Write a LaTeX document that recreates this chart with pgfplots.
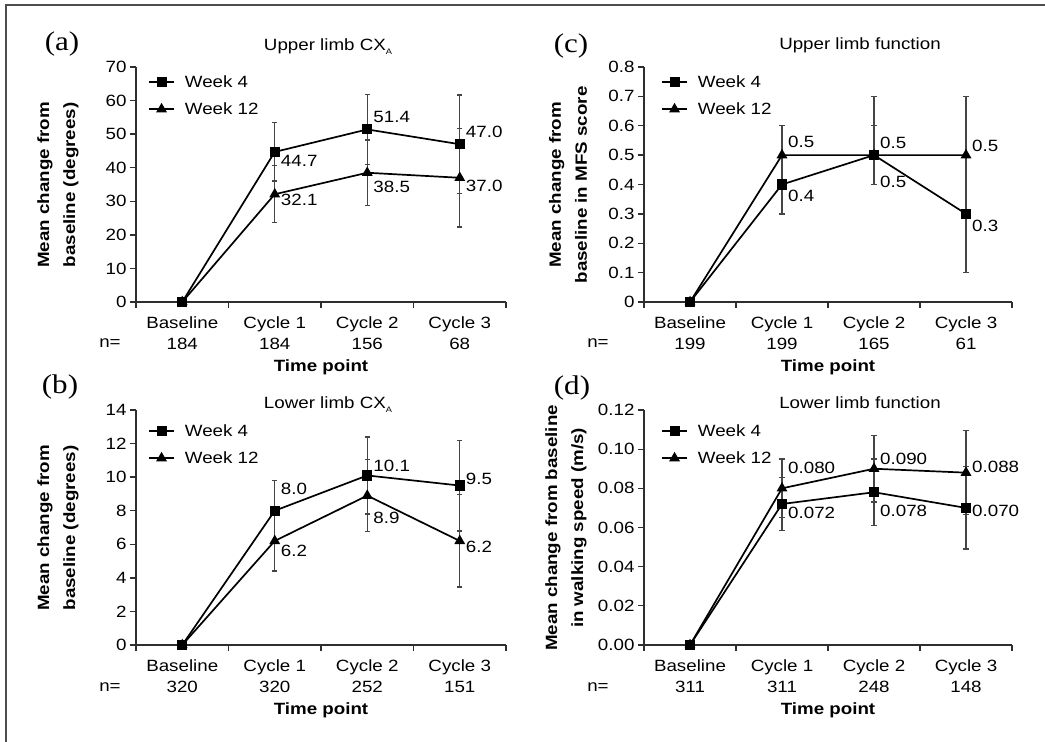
\documentclass[border=0pt]{standalone}
\usepackage{fontspec}
\setmainfont{Liberation Sans}[FakeStretch=1.15]
\newfontfamily\panelfont{Liberation Serif}[FakeStretch=1.15]
\usepackage{pgfplots}
\pgfplotsset{compat=1.18}
\definecolor{axisgray}{HTML}{2E2E2E}
\definecolor{errgray}{HTML}{454545}
\definecolor{framegray}{HTML}{4D4D4D}
\newcommand{\txt}{\fontsize{16.3}{21}\selectfont}
\newcommand{\lbl}{\fontsize{16.3}{26}\selectfont\bfseries}
\newcommand{\ttl}{\fontsize{16.3}{20}\selectfont}
\newcommand{\sub}[1]{\raisebox{-4pt}{\fontsize{8}{8}\selectfont #1}}

\pgfplotsset{
  panel/.style={
    scale only axis, width=370pt, height=235pt,
    clip=false,
    axis x line*=bottom, axis y line*=left,
    every outer x axis line/.append style={-},
    every outer y axis line/.append style={-},
    axis line style={-, draw=axisgray, line width=1.6pt},
    xmin=-0.5, xmax=3.5, ymin=0,
    xtick={0,1,2,3},
    minor xtick={-0.5,0.5,1.5,2.5,3.5},
    major x tick style={draw=none},
    tick align=outside, tick pos=left,
    major tick length=6pt, minor tick length=6pt,
    tick style={axisgray, line width=1.3pt},
    xticklabel style={align=center, font=\txt, yshift=-5pt},
    yticklabel style={font=\txt},
    /pgf/number format/assume math mode=true,
    scaled y ticks=false,
    legend cell align=left,
    legend image code/.code={\draw[mark repeat=2, mark phase=2, #1] plot coordinates {(0pt,0pt) (12.5pt,0pt) (25pt,0pt)};},
    legend style={draw=none, fill=none, font=\txt, inner sep=0pt,
      anchor=north west, at={(rel axis cs:0,1)},
      nodes={inner sep=0pt}, row sep=14pt,
      /tikz/every odd column/.append style={column sep=10pt}},
  },
  wk4/.style={black, line width=1.7pt, mark=square*, mark size=4.2pt,
    mark options={solid},
    error bars/.cd, y dir=both, y explicit,
    error bar style={errgray, line width=1.4pt},
    error mark options={rotate=90, mark size=2.6pt, errgray, line width=1.4pt}},
  wk12/.style={black, line width=1.7pt, mark=triangle*, mark size=4.6pt,
    mark options={solid},
    error bars/.cd, y dir=both, y explicit,
    error bar style={errgray, line width=1.4pt},
    error mark options={rotate=90, mark size=2.6pt, errgray, line width=1.4pt}},
  vals/.style={draw=none, mark=none, forget plot,
    nodes near coords={\pgfplotspointmeta},
    point meta=explicit symbolic,
    visualization depends on={\thisrow{dy}\as\dy},
    every node near coord/.style={anchor=west, inner sep=0pt, xshift=6pt,
      yshift=\dy pt, text=black, font=\txt}},
}

\begin{document}
\begin{tikzpicture}
\useasboundingbox (0pt,0pt) rectangle (1045pt,742pt);
\draw[framegray, line width=1.5pt] (6pt,0pt) -- (6pt,737pt) -- (1045pt,737pt);

% (a) upper limb CXA
\begin{axis}[panel, at={(136pt,440pt)}, anchor=south west,
  ymax=70, ytick={0,10,...,70},
  xticklabels={{Baseline\\184},{Cycle 1\\184},{Cycle 2\\156},{Cycle 3\\68}},
  legend style={xshift=12pt, yshift=-8pt}]
\addplot[wk4] coordinates {(0,0) (1,44.7) +- (0,8.7) (2,51.4) +- (0,10.4) (3,47.0) +- (0,14.7)};
\addplot[wk12] coordinates {(0,0) (1,32.1) +- (0,8.5) (2,38.5) +- (0,9.7) (3,37.0) +- (0,14.7)};
\legend{Week 4, Week 12}
\addplot[vals] table[meta=lab] {
x y dy lab
1 44.7 -9 44.7
1 32.1 -6 32.1
2 51.4 12 51.4
2 38.5 -14 38.5
3 47.0 12 47.0
3 37.0 -8 37.0
};
\end{axis}

% (c) upper limb function
\begin{axis}[panel, at={(644pt,440pt)}, anchor=south west, width=368pt,
  ymax=0.8, ytick={0,0.1,0.2,0.3,0.4,0.5,0.6,0.7,0.8},
  yticklabel style={/pgf/number format/.cd, fixed, precision=1},
  xticklabels={{Baseline\\199},{Cycle 1\\199},{Cycle 2\\165},{Cycle 3\\61}},
  legend style={xshift=17pt, yshift=-8pt}]
\addplot[wk4] coordinates {(0,0) (1,0.4) +- (0,0.1) (2,0.5) +- (0,0.1) (3,0.3) +- (0,0.2)};
\addplot[wk12] coordinates {(0,0) (1,0.5) +- (0,0.1) (2,0.5) += (0,0.2) -= (0,0.1) (3,0.5) +- (0,0.2)};
\legend{Week 4, Week 12}
\addplot[vals] table[meta=lab] {
x y dy lab
1 0.5 13 0.5
1 0.4 -11 0.4
2 0.5 12 0.5
2 0.5 -27 0.5
3 0.5 9 0.5
3 0.3 -12 0.3
};
\end{axis}

% (b) lower limb CXA
\begin{axis}[panel, at={(136pt,97pt)}, anchor=south west,
  ymax=14, ytick={0,2,...,14},
  xticklabels={{Baseline\\320},{Cycle 1\\320},{Cycle 2\\252},{Cycle 3\\151}},
  legend style={xshift=12pt, yshift=-14pt}]
\addplot[wk4] coordinates {(0,0) (1,8.0) +- (0,1.8) (2,10.1) +- (0,2.3) (3,9.5) +- (0,2.7)};
\addplot[wk12] coordinates {(0,0) (1,6.2) +- (0,1.8) (2,8.9) +- (0,2.15) (3,6.2) +- (0,2.75)};
\legend{Week 4, Week 12}
\addplot[vals] table[meta=lab] {
x y dy lab
1 8.0 22 8.0
1 6.2 -10 6.2
2 10.1 10 10.1
2 8.9 -22 8.9
3 9.5 7 9.5
3 6.2 -6 6.2
};
\end{axis}

% (d) lower limb function
\begin{axis}[panel, at={(644pt,97pt)}, anchor=south west, width=368pt,
  ymax=0.12, ytick={0,0.02,0.04,0.06,0.08,0.10,0.12},
  yticklabel style={/pgf/number format/.cd, fixed, fixed zerofill, precision=2},
  xticklabels={{Baseline\\311},{Cycle 1\\311},{Cycle 2\\248},{Cycle 3\\148}},
  legend style={xshift=17pt, yshift=-14pt}]
\addplot[wk4] coordinates {(0,0) (1,0.072) +- (0,0.0135) (2,0.078) +- (0,0.017) (3,0.070) +- (0,0.021)};
\addplot[wk12] coordinates {(0,0) (1,0.080) +- (0,0.015) (2,0.090) +- (0,0.017) (3,0.088) +- (0,0.0215)};
\legend{Week 4, Week 12}
\addplot[vals] table[meta=lab] {
x y dy lab
1 0.080 20 0.080
1 0.072 -9 0.072
2 0.090 10 0.090
2 0.078 -19 0.078
3 0.088 6 0.088
3 0.070 -3 0.070
};
\end{axis}

% panel letters, titles, axis labels
\node[font={\panelfont\fontsize{27}{27}\selectfont}] at (62pt,698pt) {(a)};
\node[font={\panelfont\fontsize{27}{27}\selectfont}] at (571pt,696pt) {(c)};
\node[font={\panelfont\fontsize{27}{27}\selectfont}] at (60pt,355pt) {(b)};
\node[font={\panelfont\fontsize{27}{27}\selectfont}] at (572pt,354pt) {(d)};

\node[font=\ttl] at (328pt,695pt) {Upper limb CX\sub{A}};
\node[font=\ttl] at (860pt,697pt) {Upper limb function};
\node[font=\ttl] at (328pt,337pt) {Lower limb CX\sub{A}};
\node[font=\ttl] at (860pt,339pt) {Lower limb function};

\node[rotate=90, align=center, font=\lbl] at (58pt,557pt) {Mean change from\\baseline (degrees)};
\node[rotate=90, align=center, font=\lbl] at (568pt,557pt) {Mean change from\\baseline in MFS score};
\node[rotate=90, align=center, font=\lbl] at (58pt,214pt) {Mean change from\\baseline (degrees)};
\node[rotate=90, align=center, font=\lbl] at (566pt,214pt) {Mean change from baseline\\in walking speed (m/s)};

\node[font=\txt] at (110pt,399pt) {n=};
\node[font=\txt] at (598pt,399pt) {n=};
\node[font=\txt] at (110pt,55pt) {n=};
\node[font=\txt] at (598pt,55pt) {n=};

\node[font={\txt\bfseries}] at (321pt,375pt) {Time point};
\node[font={\txt\bfseries}] at (828pt,375pt) {Time point};
\node[font={\txt\bfseries}] at (321pt,32pt) {Time point};
\node[font={\txt\bfseries}] at (828pt,32pt) {Time point};
\end{tikzpicture}
\end{document}
